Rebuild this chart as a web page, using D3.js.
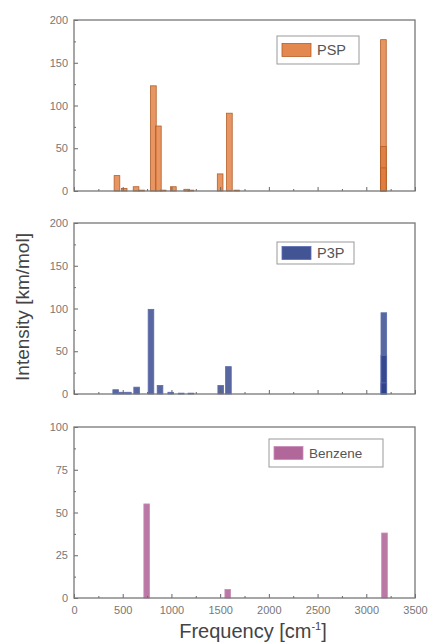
<!DOCTYPE html>
<html lang="en">
<head>
    <meta charset="UTF-8">
    <title>IR spectra</title>
    <style>
        body { margin: 0; background: #fff; }
        .tick text { font-family: "Liberation Sans", Arial, sans-serif; fill: #777; }
        .domain { display: none; }
        .tick line { stroke: #666; }
    </style>
</head>
<body>
<script src="https://cdn.jsdelivr.net/npm/d3@7/dist/d3.min.js"></script>
<div id="chart"></div>
<script>
    var width = 430, height = 644;

    // data (frequency in cm-1, intensity in km/mol)
    var pspFreq = [441, 515, 637, 695, 815, 866, 915, 1020, 1157, 1200, 1500, 1595, 1670, 3176, 3176, 3176];
    var pspInt  = [18, 3, 5, 1, 123, 76, 1, 5, 2, 1, 20, 91, 1, 177, 52, 27];
    var p3pFreq = [428, 490, 558, 643, 790, 883, 993, 1100, 1200, 1506, 1585, 3180, 3180, 3180];
    var p3pInt  = [5, 2, 2, 8, 99, 10, 2, 1, 1, 10, 32, 95, 45, 13];
    var benzFreq = [746, 1578, 3187];
    var benzInt  = [55, 5, 38];
    var xTicks = [0, 500, 1000, 1500, 2000, 2500, 3000, 3500];

    var panels = [
        {name: "PSP", freq: pspFreq, val: pspInt, ymax: 200, yTicks: [0, 50, 100, 150, 200], top: 20,
         fill: "#e07b3c", stroke: "#b35f28", legend: [277, 36, 82, 28]},
        {name: "P3P", freq: p3pFreq, val: p3pInt, ymax: 200, yTicks: [0, 50, 100, 150, 200], top: 223,
         fill: "#2f4189", stroke: "#5a6cb0", legend: [277, 242, 77, 22]},
        {name: "Benzene", freq: benzFreq, val: benzInt, ymax: 100, yTicks: [0, 25, 50, 75, 100], top: 427,
         fill: "#a9568f", stroke: "#c98ab7", legend: [269, 439, 114, 28]}
    ];

    var left = 74, right = 415, ph = 171;
    var barW = 58;

    var svg = d3.select("#chart").append("svg")
        .attr("width", width).attr("height", height);

    var x = d3.scaleLinear().domain([0, 3500]).range([left, right]);

    panels.forEach(function (p, i) {
        var y = d3.scaleLinear().domain([0, p.ymax]).range([p.top + ph, p.top]);
        var g = svg.append("g");

        // bars
        g.selectAll("rect.bar")
            .data(p.freq.map(function (f, k) { return {f: f, v: p.val[k]}; }))
            .enter().append("rect")
            .attr("class", "bar")
            .attr("x", function (d) { return x(d.f - barW / 2); })
            .attr("width", x(barW) - x(0))
            .attr("y", function (d) { return y(d.v); })
            .attr("height", function (d) { return y(0) - y(d.v); })
            .attr("fill", p.fill)
            .attr("fill-opacity", 0.8)
            .attr("stroke", p.stroke)
            .attr("stroke-width", 0.8);

        // y axis, ticks inward
        g.append("g")
            .attr("transform", "translate(" + left + ",0)")
            .call(d3.axisLeft(y).tickValues(p.yTicks).tickSize(-4).tickPadding(6))
            .selectAll("text").style("font-size", "11px");
        g.append("g")
            .attr("transform", "translate(" + left + ",0)")
            .call(d3.axisLeft(y).tickValues(p.yTicks.slice(0, -1).map(function (t) { return t + p.ymax / 8; }))
                .tickSize(-2).tickFormat(""));

        // x axis, ticks inward
        var xa = g.append("g")
            .attr("transform", "translate(0," + (p.top + ph) + ")")
            .call(d3.axisBottom(x).tickValues(xTicks).tickSize(-4).tickPadding(8)
                .tickFormat(i === 2 ? d3.format("d") : ""));
        xa.selectAll("text").style("font-size", "11px");
        g.append("g")
            .attr("transform", "translate(0," + (p.top + ph) + ")")
            .call(d3.axisBottom(x).tickValues(xTicks.slice(0, -1).map(function (t) { return t + 250; }))
                .tickSize(-2).tickFormat(""));

        // frame
        g.append("rect")
            .attr("x", left).attr("y", p.top)
            .attr("width", right - left).attr("height", ph)
            .attr("fill", "none").attr("stroke", "#777").attr("stroke-width", 1.3);

        // legend
        var L = p.legend;
        g.append("rect")
            .attr("x", L[0]).attr("y", L[1]).attr("width", L[2]).attr("height", L[3])
            .attr("fill", "#fff").attr("stroke", "#999").attr("stroke-width", 1);
        g.append("rect")
            .attr("x", L[0] + 5).attr("y", L[1] + L[3] / 2 - 6.5)
            .attr("width", 29).attr("height", 13)
            .attr("fill", p.fill).attr("fill-opacity", 0.9)
            .attr("stroke", p.stroke).attr("stroke-width", 0.8);
        g.append("text")
            .attr("x", L[0] + 40).attr("y", L[1] + L[3] / 2 + 5)
            .style("font-family", "Liberation Sans, Arial, sans-serif")
            .style("font-size", i === 2 ? "13.5px" : "14.5px")
            .style("fill", "#555")
            .text(p.name);
    });

    // axis titles
    svg.append("text")
        .attr("transform", "translate(29,307)rotate(-90)")
        .attr("text-anchor", "middle")
        .style("font-family", "Liberation Sans, Arial, sans-serif")
        .style("font-size", "19px")
        .style("fill", "#444")
        .text("Intensity [km/mol]");

    var xt = svg.append("text")
        .attr("x", 253).attr("y", 638)
        .attr("text-anchor", "middle")
        .style("font-family", "Liberation Sans, Arial, sans-serif")
        .style("font-size", "20px")
        .style("fill", "#444");
    xt.append("tspan").text("Frequency [cm");
    xt.append("tspan").attr("dy", -8).style("font-size", "11px").text("-1");
    xt.append("tspan").attr("dy", 8).text("]");
</script>
</body>
</html>
